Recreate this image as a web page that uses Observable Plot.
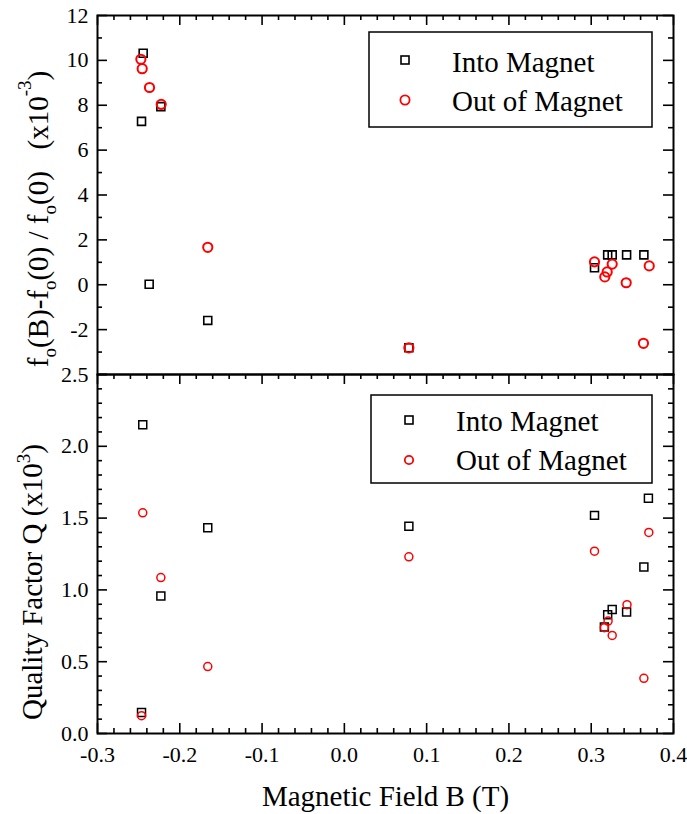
<!DOCTYPE html>
<html>
<head>
<meta charset="utf-8">
<script src="https://cdn.jsdelivr.net/npm/d3@7"></script>
<script src="https://cdn.jsdelivr.net/npm/@observablehq/plot@0.6"></script>
<style>
  html, body { margin: 0; padding: 0; background: white; }
  #chart { position: relative; width: 687px; height: 814px; background: white; }
  #chart svg { position: absolute; left: 0; font-family: 'Liberation Serif', 'Times New Roman', Times, serif; }
</style>
</head>
<body>
<div id="chart"></div>
<script>
// ---------- data ----------
const seriesNames = ["Into Magnet", "Out of Magnet"];

// Top panel: f_o(B)-f_o(0) / f_o(0)  (x10^-3)
const xTopInto = [-0.2445, -0.2465, -0.223, -0.2372, -0.166, 0.0784, 0.304, 0.320, 0.3255, 0.343, 0.364];
const yTopInto = [10.32, 7.28, 7.94, 0.02, -1.59, -2.81, 0.76, 1.33, 1.33, 1.33, 1.33];
const xTopOut = [-0.2473, -0.2457, -0.2368, -0.2226, -0.166, 0.0784, 0.304, 0.3255, 0.3194, 0.3165, 0.3425, 0.3705, 0.3635];
const yTopOut = [10.05, 9.63, 8.79, 8.04, 1.67, -2.81, 1.02, 0.92, 0.57, 0.35, 0.09, 0.84, -2.61];

// Bottom panel: Quality Factor Q (x10^3)
const xBotInto = [-0.245, -0.166, -0.223, -0.2465, 0.0784, 0.304, 0.3695, 0.364, 0.3255, 0.320, 0.316, 0.343];
const yBotInto = [2.150, 1.433, 0.957, 0.147, 1.444, 1.519, 1.638, 1.160, 0.864, 0.827, 0.741, 0.846];
const xBotOut = [-0.245, -0.223, -0.166, -0.2465, 0.0784, 0.304, 0.370, 0.3435, 0.3205, 0.316, 0.3255, 0.364];
const yBotOut = [1.537, 1.086, 0.466, 0.124, 1.230, 1.270, 1.400, 0.897, 0.783, 0.737, 0.683, 0.384];

// ticks
const xMajor = [-0.3, -0.2, -0.1, 0.0, 0.1, 0.2, 0.3, 0.4];
const xLabels = ["-0.3", "-0.2", "-0.1", "0.0", "0.1", "0.2", "0.3", "0.4"];
const xMinor = [-0.28,-0.26,-0.24,-0.22,-0.18,-0.16,-0.14,-0.12,-0.08,-0.06,-0.04,-0.02,
                0.02,0.04,0.06,0.08,0.12,0.14,0.16,0.18,0.22,0.24,0.26,0.28,0.32,0.34,0.36,0.38];
const yTopMajor = [-4, -2, 0, 2, 4, 6, 8, 10, 12];
const yTopLabelVals = [-2, 0, 2, 4, 6, 8, 10, 12];
const yTopLabels = ["-2", "0", "2", "4", "6", "8", "10", "12"];
const yTopMinor = [-3, -1, 1, 3, 5, 7, 9, 11];
const yBotMajor = [0, 0.5, 1.0, 1.5, 2.0, 2.5];
const yBotLabels = ["0.0", "0.5", "1.0", "1.5", "2.0", "2.5"];
const yBotMinor = [0.1,0.2,0.3,0.4,0.6,0.7,0.8,0.9,1.1,1.2,1.3,1.4,1.6,1.7,1.8,1.9,2.1,2.2,2.3,2.4];

const xTitle = "Magnetic Field B (T)";

// ---------- layout ----------
const FONT = "'Liberation Serif', 'Times New Roman', Times, serif";
const W = 687, ML = 97, MR = 14;
const xDomain = [-0.3, 0.4];
const topDomain = [-4, 12];
const botDomain = [0, 2.5];
const TOP_H = 380, TOP_MT = 15, TOP_MB = 6;
const BOT_TOP = 368, BOT_H = 446, BOT_MT = 6, BOT_MB = 81;
const MAJ = 10, MIN = 5;

const pts = (xs, ys) => xs.map((x, i) => ({x, y: ys[i]}));

function tickMarks(yDomain, plotH, yMaj, yMin, sides) {
  const kx = (xDomain[1] - xDomain[0]) / (W - ML - MR);
  const ky = (yDomain[1] - yDomain[0]) / plotH;
  const [x0, x1] = xDomain, [y0, y1] = yDomain;
  const st = {stroke: "black", strokeWidth: 1.6};
  const m = [];
  for (const [vals, len] of [[xMajor, MAJ], [xMinor, MIN]]) {
    if (sides.includes("bottom")) m.push(Plot.ruleX(vals, {x: d => d, y1: y0, y2: y0 + len * ky, ...st}));
    if (sides.includes("top")) m.push(Plot.ruleX(vals, {x: d => d, y1: y1, y2: y1 - len * ky, ...st}));
  }
  for (const [vals, len] of [[yMaj, MAJ], [yMin, MIN]]) {
    m.push(Plot.ruleY(vals, {y: d => d, x1: x0, x2: x0 + len * kx, ...st}));
    m.push(Plot.ruleY(vals, {y: d => d, x1: x1, x2: x1 - len * kx, ...st}));
  }
  return m;
}

const txt = {fontFamily: FONT, fill: "black"};

const topPlot = Plot.plot({
  width: W, height: TOP_H,
  marginTop: TOP_MT, marginBottom: TOP_MB, marginLeft: ML, marginRight: MR,
  x: {domain: xDomain, axis: null},
  y: {domain: topDomain, axis: null},
  style: {background: "none", overflow: "visible"},
  marks: [
    ...tickMarks(topDomain, TOP_H - TOP_MT - TOP_MB, yTopMajor, yTopMinor, ["top"]),
    Plot.frame({stroke: "black", strokeWidth: 2}),
    Plot.text(yTopLabelVals, {y: d => d, text: (d, i) => yTopLabels[i], frameAnchor: "left", textAnchor: "end", dx: -9, fontSize: 22, ...txt}),
    Plot.dot(pts(xTopInto, yTopInto), {x: "x", y: "y", symbol: "square", r: 4.5, stroke: "black", strokeWidth: 1.6, fill: "none"}),
    Plot.dot(pts(xTopOut, yTopOut), {x: "x", y: "y", r: 4.6, stroke: "red", strokeWidth: 2, fill: "none"})
  ]
});

const botPlot = Plot.plot({
  width: W, height: BOT_H,
  marginTop: BOT_MT, marginBottom: BOT_MB, marginLeft: ML, marginRight: MR,
  x: {domain: xDomain, axis: null},
  y: {domain: botDomain, axis: null},
  style: {background: "none", overflow: "visible"},
  marks: [
    ...tickMarks(botDomain, BOT_H - BOT_MT - BOT_MB, yBotMajor, yBotMinor, ["top", "bottom"]),
    Plot.frame({stroke: "black", strokeWidth: 2}),
    Plot.text(yBotMajor, {y: d => d, text: (d, i) => yBotLabels[i], frameAnchor: "left", textAnchor: "end", dx: -9, fontSize: 22, ...txt}),
    Plot.text(xMajor, {x: d => d, text: (d, i) => xLabels[i], frameAnchor: "bottom", lineAnchor: "top", dy: 13, fontSize: 22, ...txt}),
    Plot.text([xTitle], {text: d => d, frameAnchor: "bottom", lineAnchor: "bottom", dy: 72, fontSize: 29, ...txt}),
    Plot.dot(pts(xBotInto, yBotInto), {x: "x", y: "y", symbol: "square", r: 4.5, stroke: "black", strokeWidth: 1.5, fill: "none"}),
    Plot.dot(pts(xBotOut, yBotOut), {x: "x", y: "y", r: 4, stroke: "red", strokeWidth: 1.5, fill: "none"})
  ]
});

const chart = document.getElementById("chart");
topPlot.style.top = "0px";
botPlot.style.top = BOT_TOP + "px";
for (const s of [topPlot, botPlot]) s.setAttribute("font-family", FONT);
chart.appendChild(topPlot);
chart.appendChild(botPlot);

// ---------- y titles (with sub/superscripts) ----------
function yTitle(svg, cx, cy, parts, supRaise) {
  const t = d3.select(svg).append("text")
    .attr("transform", `translate(${cx},${cy}) rotate(-90)`)
    .attr("text-anchor", "middle")
    .attr("font-family", FONT)
    .attr("font-size", 29)
    .attr("fill", "black")
    .style("white-space", "pre");
  let shift = 0;
  for (const [str, kind] of parts) {
    const target = kind === "sub" ? 8 : kind === "sup" ? -supRaise : 0;
    const sp = t.append("tspan").attr("dy", target - shift).text(str);
    if (kind) sp.attr("font-size", 19);
    shift = target;
  }
}
yTitle(topPlot, 48, 219,
  [["f"], ["o", "sub"], ["(B)-f"], ["o", "sub"], ["(0) / f"], ["o", "sub"], ["(0)   (x10"], ["-3", "sup"], [")"]], 17);
yTitle(botPlot, 42, 582 - BOT_TOP, [["Quality Factor Q (x10"], ["3", "sup"], [")"]], 12);

// ---------- legends ----------
function legend(svg, bx, by, bw, bh, mx, my1, my2, tx, ty1, ty2, cr) {
  const g = d3.select(svg).append("g").attr("font-family", FONT).attr("text-anchor", "start");
  g.append("rect").attr("x", bx).attr("y", by).attr("width", bw).attr("height", bh)
    .attr("fill", "white").attr("stroke", "black").attr("stroke-width", 1.5);
  g.append("rect").attr("x", mx - 4).attr("y", my1 - 4).attr("width", 8).attr("height", 8)
    .attr("fill", "none").attr("stroke", "black").attr("stroke-width", 1.6);
  g.append("circle").attr("cx", mx).attr("cy", my2).attr("r", cr)
    .attr("fill", "none").attr("stroke", "red").attr("stroke-width", 1.8);
  g.append("text").attr("x", tx).attr("y", ty1).attr("font-size", 29).attr("fill", "black").attr("text-anchor", "start").text(seriesNames[0]);
  g.append("text").attr("x", tx).attr("y", ty2).attr("font-size", 29).attr("fill", "black").attr("text-anchor", "start").text(seriesNames[1]);
}
legend(topPlot, 369, 32, 283, 95, 405, 60, 100, 452, 72, 111, 4.6);
legend(botPlot, 371, 395 - BOT_TOP, 281, 88, 409, 420 - BOT_TOP, 460 - BOT_TOP, 456, 431 - BOT_TOP, 470 - BOT_TOP, 4.2);
</script>
</body>
</html>
